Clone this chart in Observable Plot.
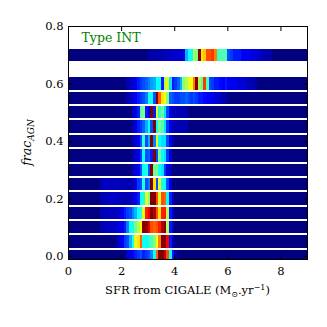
<!DOCTYPE html>
<html><head><meta charset="utf-8">
<script src="https://cdn.jsdelivr.net/npm/d3@7"></script>
<script src="https://cdn.jsdelivr.net/npm/@observablehq/plot@0.6"></script>
<style>body{margin:0;background:#fff}</style>
</head><body><div id="chart"></div>
<script>
// ---- data ----
const fracAGN = [0.00,0.05,0.10,0.15,0.20,0.25,0.30,0.35,0.40,0.45,0.50,0.55,0.60,0.70];
const binWidth = 0.1;   // SFR bin width
const nBins = 90;       // 0 .. 9
const xTicks = [0,2,4,6,8];
const yTicks = [0.0,0.2,0.4,0.6,0.8];
const typeLabel = "Type INT";
// each row: first bin index, then normalized counts (bins not listed = 0)
const start_000 = 22, row_000 = [0.08,0.1,0.12,0.15,0.18,0.2,0.15,0.18,0.2,0.25,0.38,0.78,1.0,1.0,0.93,0.8,0.38,0.15,0.06];
const start_005 = 18, row_005 = [0.05,0.08,0.12,0.18,0.2,0.3,0.4,0.6,0.65,0.78,0.4,0.38,0.42,0.45,0.5,0.62,0.75,1.0,1.0,0.88,0.15,0.06];
const start_010 = 12, row_010 = [0.05,0.05,0.06,0.06,0.07,0.07,0.08,0.1,0.12,0.15,0.25,0.38,0.4,0.48,0.55,0.62,1.0,0.98,0.9,0.8,0.78,0.8,0.85,0.95,1.0,0.55,0.15,0.06];
const start_015 = 12, row_015 = [0.05,0.05,0.06,0.06,0.06,0.06,0.07,0.08,0.12,0.15,0.18,0.2,0.25,0.3,0.38,0.42,0.6,0.85,0.88,1.0,0.95,0.8,0.65,0.85,0.85,0.55,0.15,0.08];
const start_020 = 12, row_020 = [0.05,0.05,0.06,0.06,0.07,0.07,0.06,0.06,0.05,0.05,0.05,0.06,0.08,0.1,0.15,0.38,0.4,0.6,0.5,1.0,1.0,0.8,0.58,0.8,0.78,0.38,0.15,0.06];
const start_025 = 12, row_025 = [0.05,0.06,0.07,0.07,0.06,0.06,0.07,0.06,0.05,0.05,0.05,0.05,0.06,0.1,0.18,0.2,0.4,0.2,0.25,1.0,0.65,0.2,0.6,0.4,0.38,0.2,0.1];
const start_030 = 24, row_030 = [0.05,0.08,0.12,0.2,0.38,0.4,0.2,1.0,0.48,0.5,0.38,0.35,0.18,0.1,0.06];
const start_035 = 24, row_035 = [0.05,0.07,0.1,0.18,0.38,0.2,0.22,0.15,1.0,0.2,0.5,0.38,0.35,0.18,0.08];
const start_040 = 24, row_040 = [0.05,0.08,0.12,0.2,0.42,0.2,0.3,1.0,0.25,0.6,0.38,0.35,0.35,0.2,0.1,0.05];
const start_045 = 24, row_045 = [0.05,0.08,0.15,0.18,0.22,0.3,0.38,0.2,1.0,0.38,0.5,0.45,0.35,0.18,0.1,0.06,0.05,0.05,0.05,0.05,0.05];
const start_050 = 24, row_050 = [0.05,0.08,0.15,0.45,0.5,0.15,0.1,1.0,0.15,0.6,0.42,0.48,0.35,0.2,0.1,0.06,0.06,0.05,0.05,0.05,0.05];
const start_055 = 22, row_055 = [0.05,0.06,0.08,0.12,0.15,0.18,0.2,0.25,0.4,0.38,0.2,1.0,0.78,0.65,0.62,0.5,0.22,0.2,0.18,0.18,0.2,0.2,0.22,0.2,0.18,0.2,0.18,0.15,0.15,0.13,0.12,0.12,0.1,0.08,0.08,0.06,0.05,0.05];
const start_060 = 22, row_060 = [0.05,0.06,0.08,0.1,0.15,0.18,0.2,0.22,0.25,0.28,0.3,0.38,0.38,0.15,0.55,0.6,0.35,0.15,0.18,0.22,0.3,0.5,0.55,0.6,0.62,0.75,1.0,0.55,0.45,0.82,0.45,0.2,0.18,0.15,0.15,0.13,0.12,0.15,0.12,0.1,0.12,0.1,0.08,0.1,0.08,0.06,0.05,0.05,0.04];
const start_070 = 30, row_070 = [0.04,0.04,0.04,0.04,0.05,0.05,0.06,0.06,0.07,0.07,0.08,0.08,0.08,0.1,0.3,0.38,0.38,0.55,0.5,1.0,0.65,0.68,0.8,0.8,0.82,0.75,0.42,0.45,0.45,0.45,0.2,0.18,0.15,0.15,0.15,0.12,0.1,0.12,0.1,0.08,0.1,0.08,0.06,0.05,0.05,0.04,0.04];

const rowStarts = [start_000,start_005,start_010,start_015,start_020,start_025,start_030,start_035,start_040,start_045,start_050,start_055,start_060,start_070];
const rowValues = [row_000,row_005,row_010,row_015,row_020,row_025,row_030,row_035,row_040,row_045,row_050,row_055,row_060,row_070];

// ---- build cells ----
const rowHalf = 0.0215;
const cells = [];
fracAGN.forEach((f, r) => {
  for (let i = 0; i < nBins; i++) {
    const v = rowValues[r][i - rowStarts[r]] ?? 0;
    cells.push({x1: i*binWidth, x2: (i+1)*binWidth, y1: f - rowHalf, y2: f + rowHalf, v});
  }
});

function jet(t) {
  const c = x => Math.max(0, Math.min(1, x));
  const r = c(Math.min(4*t - 1.5, -4*t + 4.5));
  const g = c(Math.min(4*t - 0.5, -4*t + 3.5));
  const b = c(Math.min(4*t + 0.5, -4*t + 2.5));
  return `rgb(${Math.round(r*255)},${Math.round(g*255)},${Math.round(b*255)})`;
}

const fmt = d3.format(".1f");
const chart = Plot.plot({
  width: 327, height: 327,
  marginLeft: 68, marginRight: 20, marginTop: 26, marginBottom: 68,
  x: {domain: [0, 9]},
  y: {domain: [-0.0104, 0.8]},
  color: {type: "linear", domain: [0, 1], interpolate: jet},
  style: {fontFamily: "DejaVu Serif", fontSize: "11.5px", color: "black", background: "white"},
  marks: [
    Plot.rect(cells, {x1: "x1", x2: "x2", y1: "y1", y2: "y2", fill: "v", clip: true, shapeRendering: "crispEdges"}),
    Plot.frame({stroke: "black", strokeWidth: 1}),
    Plot.axisX(xTicks, {anchor: "bottom", tickSize: -4, tickPadding: 11, label: null}),
    Plot.axisX(xTicks, {anchor: "top", tickSize: -4, tickFormat: () => "", label: null}),
    Plot.axisY(yTicks, {anchor: "left", tickSize: -4, tickPadding: 9, tickFormat: fmt, label: null}),
    Plot.axisY(yTicks, {anchor: "right", tickSize: -4, tickFormat: () => "", label: null}),
    Plot.text([typeLabel], {frameAnchor: "top-left", dx: 13, dy: 15, textAnchor: "start", lineAnchor: "bottom", fill: "#008000", fontSize: 12.5})
  ]
});
document.getElementById("chart").appendChild(chart);

// axis titles with sub/superscripts
const svg = d3.select(chart);
const xl = svg.append("text").attr("x", (68 + 307) / 2).attr("y", 294)
  .attr("text-anchor", "middle").attr("font-family", "DejaVu Serif").attr("font-size", 11.5).attr("fill", "black");
xl.append("tspan").text("SFR from CIGALE (M");
xl.append("tspan").attr("dy", 3).attr("font-size", 8).text("⊙");
xl.append("tspan").attr("dy", -3).text(".yr");
xl.append("tspan").attr("dy", -4).attr("font-size", 8).text("−1");
xl.append("tspan").attr("dy", 4).text(")");

const yl = svg.append("text").attr("transform", "translate(31,142.5) rotate(-90)")
  .attr("text-anchor", "middle").attr("font-family", "DejaVu Serif").attr("font-size", 12.5)
  .attr("font-style", "italic").attr("fill", "black");
yl.append("tspan").text("frac");
yl.append("tspan").attr("dy", 3).attr("font-size", 9).text("AGN");
</script>
</body></html>
